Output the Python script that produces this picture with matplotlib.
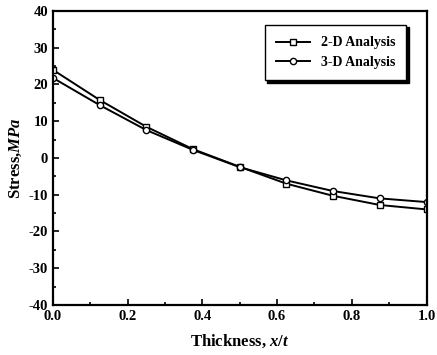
import matplotlib.pyplot as plt
from matplotlib.ticker import MultipleLocator

plt.rcParams['font.family'] = 'Liberation Serif'
plt.rcParams['font.weight'] = 'bold'
plt.rcParams['axes.labelweight'] = 'bold'
plt.rcParams['axes.unicode_minus'] = False
plt.rcParams['mathtext.fontset'] = 'custom'
plt.rcParams['mathtext.it'] = 'Liberation Serif:bold:italic'
plt.rcParams['mathtext.rm'] = 'Liberation Serif:bold'

# data
thickness = [0.0, 0.125, 0.25, 0.375, 0.5, 0.625, 0.75, 0.875, 1.0]
stress_2d = [24.0, 15.8, 8.5, 2.4, -2.4, -7.0, -10.3, -12.8, -14.0]
stress_3d = [21.8, 14.4, 7.6, 2.2, -2.5, -6.1, -9.0, -11.0, -12.0]

fig = plt.figure(figsize=(4.37, 3.55), dpi=100)
ax = fig.add_axes([0.121, 0.141, 0.855, 0.828])

ax.plot(thickness, stress_2d, color='black', lw=1.4, marker='s', ms=4.5,
        mfc='white', mec='black', mew=1.0, label='2-D Analysis')
ax.plot(thickness, stress_3d, color='black', lw=1.4, marker='o', ms=4.5,
        mfc='white', mec='black', mew=1.0, label='3-D Analysis')

ax.set_xlim(0, 1.0)
ax.set_ylim(-40, 40)
ax.xaxis.set_major_locator(MultipleLocator(0.2))
ax.xaxis.set_minor_locator(MultipleLocator(0.1))
ax.yaxis.set_major_locator(MultipleLocator(10))
ax.yaxis.set_minor_locator(MultipleLocator(5))
ax.xaxis.set_major_formatter(plt.FuncFormatter(lambda v, p: f'{v:.1f}'))
ax.tick_params(which='both', direction='in', width=1.2, labelsize=10.5)
ax.tick_params(which='major', length=4)
ax.tick_params(which='minor', length=2)
for lbl in ax.get_xticklabels() + ax.get_yticklabels():
    lbl.set_fontweight('bold')
for s in ax.spines.values():
    s.set_linewidth(1.6)

ax.set_xlabel('Thickness, $x/t$', fontsize=12, fontweight='bold', labelpad=7)
ax.set_ylabel('Stress,$MPa$', fontsize=12, fontweight='bold', labelpad=3)

leg = ax.legend(loc='upper right', bbox_to_anchor=(0.965, 0.975),
                prop={'weight': 'bold', 'size': 10},
                frameon=True, fancybox=False,
                shadow={'color': 'black', 'alpha': 1.0, 'ox': 1.5, 'oy': -1.5},
                handlelength=2.4, borderpad=0.8, labelspacing=0.5)
leg.get_frame().set_edgecolor('black')
leg.get_frame().set_linewidth(1.0)

fig.savefig('out.png', dpi=100)
